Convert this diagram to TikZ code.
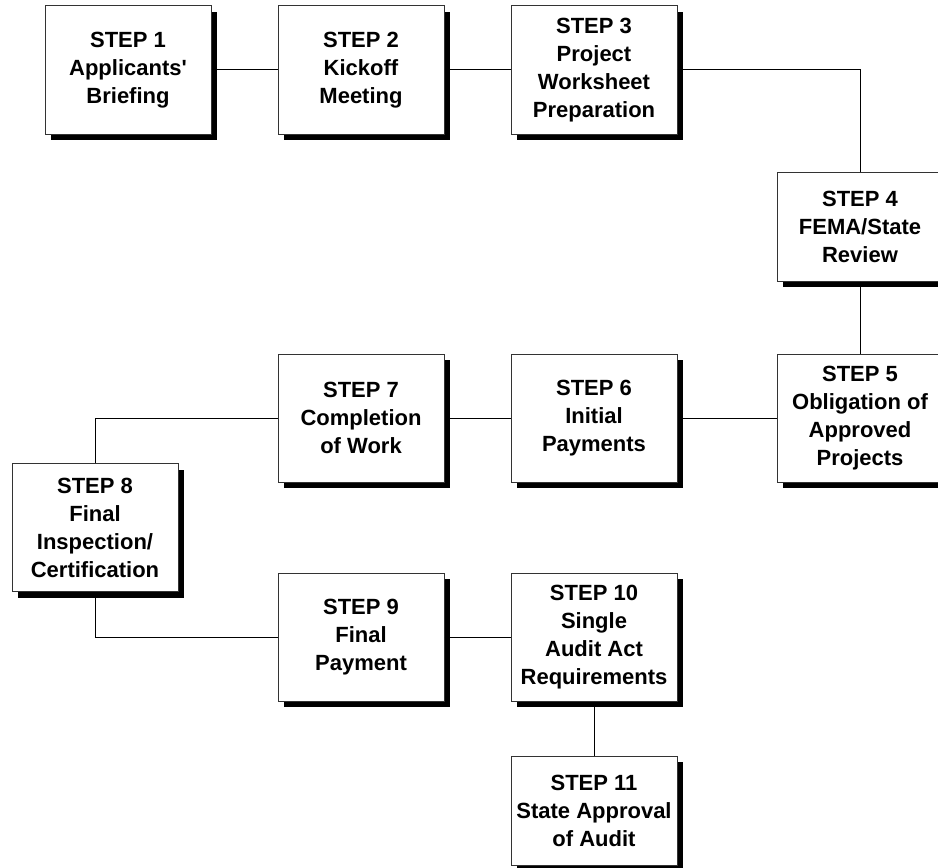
\documentclass[tikz,border=0pt]{standalone}
\usepackage{fontspec}
\setmainfont{Liberation Sans}
\usepackage{tikz}
\usetikzlibrary{shadows}
\definecolor{boxline}{HTML}{333333}

\begin{document}
\begin{tikzpicture}[
			x=0.75pt, y=-0.75pt,
			every node/.style={font=\fontsize{16.5}{21}\selectfont\bfseries, color=black},
			stepbox/.style={draw=boxline, fill=white, line width=0.75pt, minimum width=124.5pt, minimum height=96pt, inner sep=0pt, align=center,
				drop shadow={fill=black, opacity=1, shadow xshift=4.5pt, shadow yshift=-4.5pt}},
			shortbox/.style={stepbox, minimum height=81.75pt},
			link/.style={draw=black, line width=0.75pt}
		]
		\clip (0,0) rectangle (938,867);

		\node[stepbox] (s1) at (128,70) {STEP 1\\Applicants\textquotesingle\\Briefing};
		\node[stepbox] (s2) at (361,70) {STEP 2\\Kickoff\\Meeting};
		\node[stepbox] (s3) at (594,70) {STEP 3\\Project\\Worksheet\\Preparation};
		\node[shortbox] (s4) at (860,226.5) {STEP 4\\FEMA/State\\Review};

		\node[stepbox] (s5) at (860,418) {STEP 5\\Obligation of\\Approved\\Projects};
		\node[stepbox] (s6) at (594,418) {STEP 6\\Initial\\Payments};
		\node[stepbox] (s7) at (361,418) {STEP 7\\Completion\\of Work};

		\node[stepbox] (s8) at (95,527.5) {STEP 8\\Final\\Inspection/\\Certification};

		\node[stepbox] (s9) at (361,637) {STEP 9\\Final\\Payment};
		\node[stepbox] (s10) at (594,637) {STEP 10\\Single\\Audit Act\\Requirements};
		\node[shortbox] (s11) at (594,810.5) {STEP 11\\State Approval\\of Audit};

		\draw[link] (s1.east) -- (s2.west);
		\draw[link] (s2.east) -- (s3.west);
		\draw[link] (s3.east) -| (s4.north);
		\draw[link] (s4.south) -- (s5.north);
		\draw[link] (s5.west) -- (s6.east);
		\draw[link] (s6.west) -- (s7.east);
		\draw[link] (s7.west) -| (s8.north);
		\draw[link] (s8.south) |- (s9.west);
		\draw[link] (s9.east) -- (s10.west);
		\draw[link] (s10.south) -- (s11.north);
	\end{tikzpicture}
\end{document}
